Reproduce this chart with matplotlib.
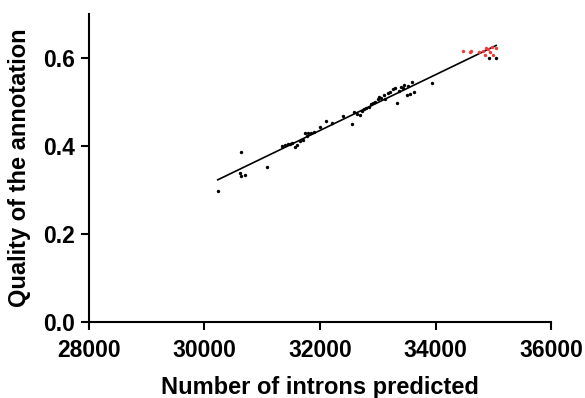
import numpy as np
import matplotlib
matplotlib.use("Agg")
import matplotlib.pyplot as plt

plt.rcParams['font.family'] = ['Liberation Sans', 'DejaVu Sans']
plt.rcParams['font.weight'] = 'bold'

# annotations (black)
introns_black = [30230, 30620, 30634, 30640, 30710, 31085, 31350, 31400, 31440, 31480,
                 31520, 31560, 31600, 31650, 31700, 31740, 31780, 31800, 31850, 31900,
                 32000, 32100, 32200, 32400, 32550, 32580, 32640, 32700, 32720, 32760,
                 32800, 32850, 32880, 32920, 32960, 33000, 33020, 33060, 33100, 33130,
                 33180, 33220, 33260, 33300, 33330, 33360, 33400, 33430, 33450, 33500,
                 33530, 33560, 33600, 33620, 33940, 34930, 35050]
quality_black = [0.298, 0.338, 0.385, 0.332, 0.333, 0.352, 0.400, 0.402, 0.405, 0.403,
                 0.406, 0.398, 0.401, 0.410, 0.412, 0.428, 0.422, 0.430, 0.428, 0.431,
                 0.442, 0.455, 0.452, 0.467, 0.449, 0.476, 0.472, 0.470, 0.478, 0.483,
                 0.485, 0.489, 0.494, 0.496, 0.500, 0.505, 0.510, 0.509, 0.514, 0.506,
                 0.520, 0.522, 0.528, 0.531, 0.498, 0.524, 0.534, 0.530, 0.538, 0.516,
                 0.536, 0.518, 0.545, 0.523, 0.542, 0.598, 0.599]

# best annotations (red)
introns_red = [34475, 34600, 34620, 34760, 34830, 34850, 34880, 34910, 34950, 34970,
               35000, 35040]
quality_red = [0.616, 0.612, 0.616, 0.612, 0.616, 0.605, 0.622, 0.619, 0.613, 0.624,
               0.607, 0.621]

x_ticks = [28000, 30000, 32000, 34000, 36000]
y_ticks = [0.0, 0.2, 0.4, 0.6]

fig = plt.figure(figsize=(5.85, 3.98), dpi=100)
ax = fig.add_axes([0.152, 0.191, 0.790, 0.775])

ax.scatter(introns_black, quality_black, s=6, color='black', zorder=3, linewidths=0)
ax.scatter(introns_red, quality_red, s=6, color='#f03a3a', zorder=3, linewidths=0)

# regression line over all points
all_x = np.array(introns_black + introns_red)
all_y = np.array(quality_black + quality_red)
slope, icpt = np.polyfit(all_x, all_y, 1)
xs = np.array([all_x.min(), all_x.max()])
ax.plot(xs, slope * xs + icpt, color='black', lw=1.2, zorder=2)

ax.set_xlim(28000, 36000)
ax.set_ylim(0, 0.7)
ax.set_xticks(x_ticks)
ax.set_yticks(y_ticks)
ax.set_yticklabels([f"{v:.1f}" for v in y_ticks])

for side in ['top', 'right']:
    ax.spines[side].set_visible(False)
for side in ['left', 'bottom']:
    ax.spines[side].set_linewidth(1.5)
ax.tick_params(width=1.5, length=6, labelsize=16.5, pad=4)
ax.tick_params(axis='x', pad=6)

ax.set_xlabel('Number of introns predicted', fontsize=17, fontweight='bold', labelpad=10)
ax.set_ylabel('Quality of the annotation', fontsize=17, fontweight='bold', labelpad=9)

fig.savefig('out.png', dpi=100)
